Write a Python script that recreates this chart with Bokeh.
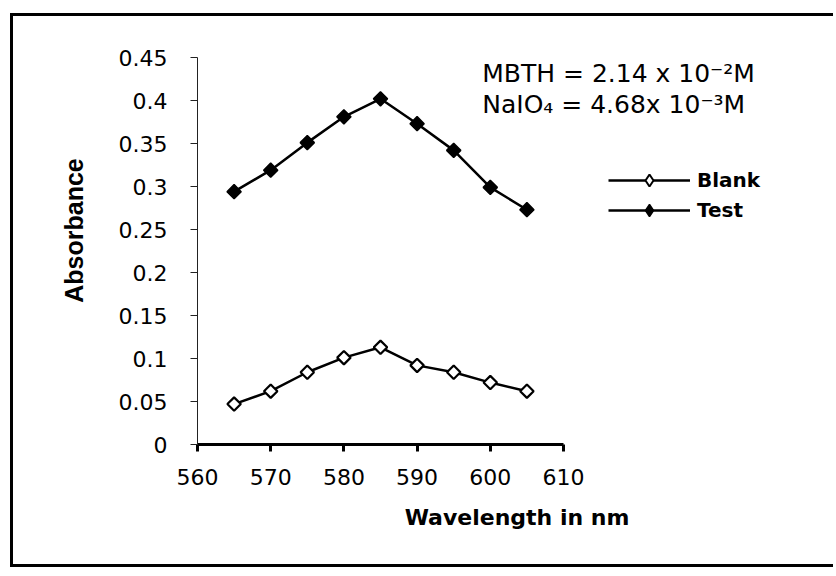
from bokeh.plotting import figure
from bokeh.models import (Range1d, FixedTicker, CustomJSTickFormatter, Legend, LegendItem, Label)
from bokeh.embed import file_html
from bokeh.resources import INLINE
import numpy as np

# ---- data ----
wavelength = [565, 570, 575, 580, 585, 590, 595, 600, 605]
blank = [0.047, 0.062, 0.084, 0.101, 0.113, 0.092, 0.084, 0.072, 0.062]
test = [0.294, 0.319, 0.351, 0.381, 0.402, 0.373, 0.342, 0.299, 0.273]
x_ticks = [560, 570, 580, 590, 600, 610]
y_ticks = [0, 0.05, 0.1, 0.15, 0.2, 0.25, 0.3, 0.35, 0.4, 0.45]
note1 = "MBTH = 2.14 x 10\u207b\u00b2M"
note2 = "NaIO\u2084 = 4.68x 10\u207b\u00b3M"

# canvas placed at page (13, 16) because of margin + border
OX, OY = 13, 16
W, H = 836 - OX, 554
FL, FB = 197 - OX, 444 - OY          # frame left / bottom in canvas px
px_per_x = 7.32                       # px per nm
px_per_y = 860.0                      # px per absorbance unit
x_hi = 560 + (W - FL) / px_per_x
y_hi = FB / px_per_y

p = figure(width=W, height=H, output_backend="svg", toolbar_location=None,
           x_range=Range1d(560, x_hi), y_range=Range1d(0, y_hi),
           min_border_left=FL, min_border_right=0, min_border_top=0,
           min_border_bottom=H - FB)
p.margin = (13, 0, 0, 10)
p.styles = {"border-left": "3px solid black", "border-top": "3px solid black",
            "border-bottom": "3px solid black"}
p.outline_line_color = None
p.grid.visible = False
p.background_fill_color = "white"
p.border_fill_color = "white"

NUM_FONT = "DejaVu Sans"

# x axis
p.xaxis.bounds = (560, 610)
p.xaxis.ticker = FixedTicker(ticks=x_ticks)
p.xaxis.axis_line_width = 3
p.xaxis.axis_line_color = "black"
p.xaxis.major_tick_line_width = 3
p.xaxis.major_tick_line_color = "black"
p.xaxis.major_tick_out = 7
p.xaxis.major_tick_in = 0
p.xaxis.minor_tick_line_color = None
p.xaxis.major_label_text_font = NUM_FONT
p.xaxis.major_label_text_font_size = "22px"
p.xaxis.major_label_text_color = "black"
p.xaxis.major_label_standoff = 17
p.xaxis.axis_label = "Wavelength in nm"
p.xaxis.axis_label_text_font = "DejaVu Sans"
p.xaxis.axis_label_text_font_style = "bold"
p.xaxis.axis_label_text_font_size = "22px"
p.xaxis.axis_label_text_color = "black"
p.xaxis.axis_label_standoff = 17

# y axis
p.yaxis.bounds = (0, 0.45)
p.yaxis.ticker = FixedTicker(ticks=y_ticks)
p.yaxis.formatter = CustomJSTickFormatter(code="return String(tick)")
p.yaxis.axis_line_width = 1
p.yaxis.axis_line_color = "#222222"
p.yaxis.major_tick_line_width = 1
p.yaxis.major_tick_line_color = "#222222"
p.yaxis.major_tick_out = 7
p.yaxis.major_tick_in = 0
p.yaxis.minor_tick_line_color = None
p.yaxis.major_label_text_font = NUM_FONT
p.yaxis.major_label_text_font_size = "22px"
p.yaxis.major_label_text_color = "black"
p.yaxis.major_label_standoff = 23
p.yaxis.axis_label = "Absorbance"
p.yaxis.axis_label_text_font = "Liberation Sans"
p.yaxis.axis_label_text_font_style = "bold"
p.yaxis.axis_label_text_font_size = "25px"
p.yaxis.axis_label_text_color = "black"
p.yaxis.axis_label_standoff = 28

# series
bl = p.line(wavelength, blank, line_color="black", line_width=2.5)
tl = p.line(wavelength, test, line_color="black", line_width=2.5)
# diamond keys used by the legend (hidden under the plotted markers)
bk = p.scatter(wavelength, blank, marker="diamond", size=7, fill_color="white",
               line_color="black", line_width=2)
tk = p.scatter(wavelength, test, marker="diamond", size=7, fill_color="black",
               line_color="black", line_width=1.5)
bs = p.scatter(wavelength, blank, marker="square", angle=np.pi / 4, size=9.5,
               fill_color="white", line_color="black", line_width=2.2)
ts = p.scatter(wavelength, test, marker="square", angle=np.pi / 4, size=10,
               fill_color="black", line_color="black", line_width=1.5)

legend = Legend(items=[LegendItem(label="Blank", renderers=[bl, bk]),
                       LegendItem(label="Test", renderers=[tl, tk])],
                location=(411, 219), glyph_width=82, glyph_height=30, label_height=30,
                spacing=0, padding=0, margin=0, label_standoff=7,
                border_line_color=None, background_fill_alpha=0,
                label_text_font="DejaVu Sans", label_text_font_style="bold",
                label_text_font_size="20px", label_text_color="black")
p.add_layout(legend, "center")

p.add_layout(Label(x=598.9, y=0.4314, text=note1, text_font="DejaVu Sans",
                   text_font_size="25px", text_color="black", text_baseline="alphabetic"))
p.add_layout(Label(x=598.9, y=0.3953, text=note2, text_font="DejaVu Sans",
                   text_font_size="25px", text_color="black", text_baseline="alphabetic"))

open("out.html", "w").write(file_html(p, INLINE))
